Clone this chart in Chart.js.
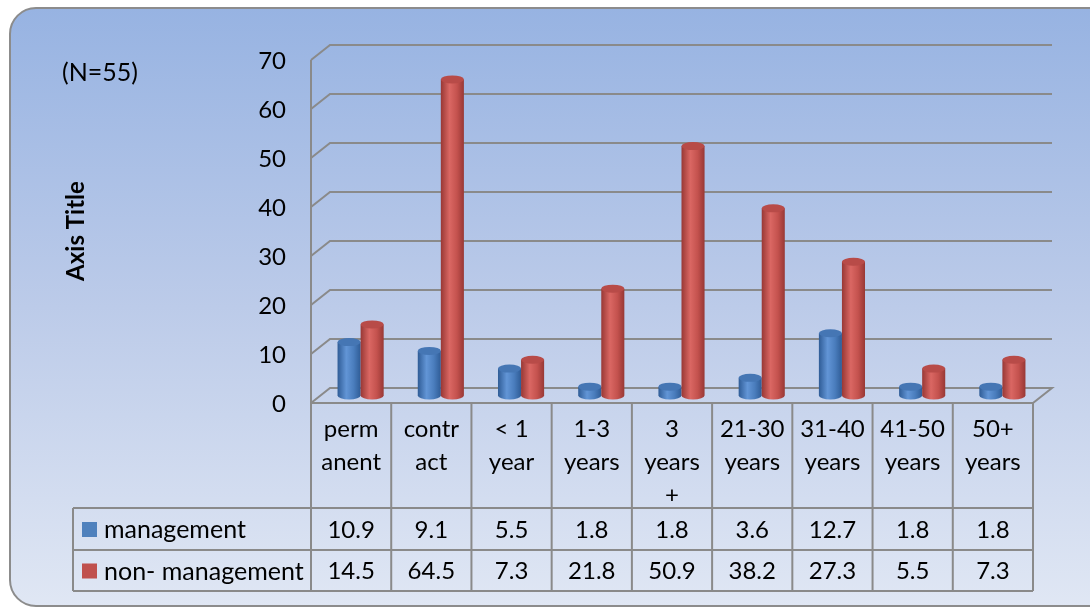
<!DOCTYPE html>
<html>
<head>
<meta charset="utf-8">
<script src="https://cdn.jsdelivr.net/npm/chart.js@4"></script>
<style>
  html, body { margin: 0; padding: 0; background: #fff; }
  #wrap { width: 1090px; height: 607px; position: relative; }
</style>
</head>
<body>
<div id="wrap"><canvas id="chart" width="1090" height="607"></canvas></div>
<script>
// data
const categories = [
    ['perm', 'anent'], ['contr', 'act'], ['< 1', 'year'], ['1-3', 'years'],
    ['3', 'years', '+'], ['21-30', 'years'], ['31-40', 'years'], ['41-50', 'years'], ['50+', 'years']
];
const seriesNames = ['management', 'non- management'];
const management = [10.9, 9.1, 5.5, 1.8, 1.8, 3.6, 12.7, 1.8, 1.8];
const nonManagement = [14.5, 64.5, 7.3, 21.8, 50.9, 38.2, 27.3, 5.5, 7.3];
const yTicks = [0, 10, 20, 30, 40, 50, 60, 70];
const noteText = '(N=55)';
const axisTitle = 'Axis Title';

const FONT = 'Lato, "Open Sans", sans-serif';
const GRID = '#8a8a8a';
const DX = 19, DY = -15;          // depth of the 3d box
const TABLE_ROWS = [403, 508, 550, 591];
const TABLE_LEFT = 73;

const palette = [
    { dark: '#2f5c96', light: '#6295d6', mid: '#4a7dbd', cap: '#4576b4', key: '#4f81bd' },
    { dark: '#983835', light: '#da6763', mid: '#c4524e', cap: '#b84b48', key: '#c0504d' }
];

function drawCylinder(ctx, x0, x1, yTop, yBase, c) {
    const rx = (x1 - x0) / 2, cx = (x0 + x1) / 2, ry = 4;
    const g = ctx.createLinearGradient(x0, 0, x1, 0);
    g.addColorStop(0, c.dark);
    g.addColorStop(0.38, c.light);
    g.addColorStop(0.7, c.mid);
    g.addColorStop(1, c.dark);
    ctx.fillStyle = g;
    ctx.beginPath();
    ctx.moveTo(x0, yTop);
    ctx.lineTo(x0, yBase);
    ctx.ellipse(cx, yBase, rx, ry, 0, Math.PI, 0, true);
    ctx.lineTo(x1, yTop);
    ctx.closePath();
    ctx.fill();
    ctx.fillStyle = c.cap;
    ctx.beginPath();
    ctx.ellipse(cx, yTop, rx, ry, 0, 0, Math.PI * 2);
    ctx.fill();
}

const box3d = {
    id: 'box3d',
    beforeDraw(chart) {
        const ctx = chart.ctx;
        ctx.save();
        ctx.fillStyle = '#fff';
        ctx.fillRect(0, 0, chart.width, chart.height);
        const bg = ctx.createLinearGradient(0, 8, 0, 607);
        bg.addColorStop(0, '#97b3e2');
        bg.addColorStop(0.5, '#bccbe9');
        bg.addColorStop(1, '#e0e7f4');
        ctx.fillStyle = bg;
        ctx.strokeStyle = '#8c8c8c';
        ctx.lineWidth = 2;
        ctx.beginPath();
        ctx.roundRect(10, 8, 1110, 598, 26);
        ctx.fill();
        ctx.stroke();
        ctx.restore();
    },
    beforeDatasetsDraw(chart) {
        const ctx = chart.ctx, y = chart.scales.y, a = chart.chartArea;
        ctx.save();
        ctx.strokeStyle = GRID;
        ctx.lineWidth = 2;
        yTicks.forEach(v => {
            const py = y.getPixelForValue(v);
            ctx.beginPath();
            ctx.moveTo(a.left, py);
            ctx.lineTo(a.left + DX, py + DY);
            ctx.lineTo(a.right + DX, py + DY);
            if (v === 0) ctx.lineTo(a.right, py);
            ctx.stroke();
        });
        ctx.beginPath();
        ctx.moveTo(a.left, y.getPixelForValue(70));
        ctx.lineTo(a.left, TABLE_ROWS[3]);
        ctx.stroke();

        ctx.fillStyle = '#000';
        ctx.font = '24px ' + FONT;
        ctx.textAlign = 'right';
        ctx.textBaseline = 'middle';
        yTicks.forEach(v => ctx.fillText(String(v), a.left - 25, y.getPixelForValue(v) + 1));

        ctx.textAlign = 'left';
        ctx.font = '25px ' + FONT;
        ctx.fillText(noteText, 62, 73);

        ctx.translate(76, 231);
        ctx.rotate(-Math.PI / 2);
        ctx.textAlign = 'center';
        ctx.font = 'bold 24px ' + FONT;
        ctx.fillText(axisTitle, 0, 0);
        ctx.restore();
    },
    afterDatasetsDraw(chart) {
        const ctx = chart.ctx;
        ctx.save();
        chart.data.datasets.forEach((ds, i) => {
            chart.getDatasetMeta(i).data.forEach(el => {
                const w = el.width;
                drawCylinder(ctx, el.x - w / 2 + DX / 2, el.x + w / 2 + DX / 2,
                    el.y + DY / 2, el.base + DY / 2, palette[i]);
            });
        });
        ctx.restore();
    },
    afterDraw(chart) {
        const ctx = chart.ctx, x = chart.scales.x, a = chart.chartArea;
        const n = categories.length, cw = (a.right - a.left) / n;
        const [r0, r1, r2, r3] = TABLE_ROWS;
        ctx.save();
        ctx.strokeStyle = GRID;
        ctx.lineWidth = 2;
        ctx.beginPath();
        for (let i = 0; i <= n; i++) {
            const px = a.left + i * cw;
            ctx.moveTo(px, r0);
            ctx.lineTo(px, r3);
        }
        ctx.moveTo(TABLE_LEFT, r1); ctx.lineTo(TABLE_LEFT, r3);
        ctx.moveTo(a.left, r0); ctx.lineTo(a.right, r0);
        [r1, r2, r3].forEach(r => { ctx.moveTo(TABLE_LEFT, r); ctx.lineTo(a.right, r); });
        ctx.stroke();

        ctx.fillStyle = '#000';
        ctx.font = '24px ' + FONT;
        ctx.textAlign = 'center';
        ctx.textBaseline = 'middle';
        categories.forEach((lines, i) => {
            const cx = x.getPixelForValue(i);
            lines.forEach((t, k) => ctx.fillText(t, cx, 429 + k * 33));
            ctx.fillText(management[i].toFixed(1), cx, (r1 + r2) / 2 + 1);
            ctx.fillText(nonManagement[i].toFixed(1), cx, (r2 + r3) / 2 + 1);
        });

        ctx.textAlign = 'left';
        ctx.font = '25px ' + FONT;
        [[r1, r2], [r2, r3]].forEach(([t, b], i) => {
            const cy = (t + b) / 2;
            ctx.fillStyle = palette[i].key;
            ctx.fillRect(82, cy - 7, 15, 15);
            ctx.fillStyle = '#000';
            ctx.fillText(seriesNames[i], 104, cy + 1);
        });
        ctx.restore();
    }
};

new Chart(document.getElementById('chart'), {
    type: 'bar',
    data: {
        labels: categories,
        datasets: [
            { label: seriesNames[0], data: management, backgroundColor: 'rgba(0,0,0,0)' },
            { label: seriesNames[1], data: nonManagement, backgroundColor: 'rgba(0,0,0,0)' }
        ]
    },
    options: {
        responsive: false,
        animation: false,
        layout: { padding: { left: 311, right: 57, top: 60, bottom: 204 } },
        datasets: { bar: { categoryPercentage: 0.575, barPercentage: 1 } },
        plugins: { legend: { display: false }, tooltip: { enabled: false } },
        scales: {
            x: { display: false },
            y: { display: false, min: 0, max: 70 }
        }
    },
    plugins: [box3d]
});
</script>
</body>
</html>
